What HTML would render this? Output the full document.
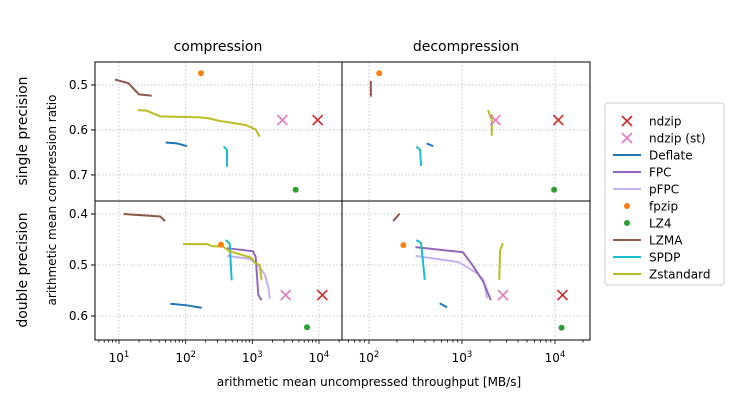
<!DOCTYPE html>
<html><head><meta charset="utf-8"><style>
body{margin:0;background:#fff}
svg text{font-family:"DejaVu Sans","Liberation Sans",sans-serif;fill:#000}
</style></head><body>
<svg id="c" width="745" height="400" xmlns="http://www.w3.org/2000/svg"></svg>
<script>
// data: x as log10(MB/s), y as compression ratio
const colors={ndzip:"#d62728",ndzipst:"#e377c2",Deflate:"#1f77b4",FPC:"#9467bd",pFPC:"#c5b0f5",fpzip:"#ff7f0e",LZ4:"#2ca02c",LZMA:"#8c564b",SPDP:"#17becf",Zstandard:"#bcbd22"};
const legendNames=["ndzip","ndzip (st)","Deflate","FPC","pFPC","fpzip","LZ4","LZMA","SPDP","Zstandard"];
const legendKeys=["ndzip","ndzipst","Deflate","FPC","pFPC","fpzip","LZ4","LZMA","SPDP","Zstandard"];
const yTicksTop=[0.5,0.6,0.7];
const yTicksBot=[0.4,0.5,0.6];
const xTicksExp=[1,2,3,4];
// panel 0: single/compression, 1: single/decompression, 2: double/compression, 3: double/decompression
const p0LZMA=[[0.94,0.488],[1.14,0.496],[1.30,0.521],[1.49,0.524]];
const p0Zstd=[[1.28,0.556],[1.41,0.557],[1.62,0.570],[2.21,0.572],[2.34,0.574],[2.51,0.580],[2.90,0.589],[3.05,0.599],[3.11,0.615]];
const p0Deflate=[[1.70,0.628],[1.87,0.630],[2.02,0.636]];
const p0SPDP=[[2.57,0.637],[2.62,0.644],[2.62,0.682]];
const p0Pts={fpzip:[2.23,0.474],ndzipst:[3.45,0.578],ndzip:[3.98,0.578],LZ4:[3.65,0.733]};
const p1LZMA=[[2.02,0.491],[2.02,0.526]];
const p1Zstd=[[3.28,0.556],[3.31,0.574],[3.32,0.567],[3.32,0.613]];
const p1Deflate=[[2.62,0.630],[2.69,0.636]];
const p1SPDP=[[2.51,0.637],[2.55,0.644],[2.56,0.680]];
const p1Pts={fpzip:[2.11,0.474],ndzipst:[3.36,0.578],ndzip:[4.035,0.578],LZ4:[3.99,0.733]};
const p2LZMA=[[1.07,0.400],[1.62,0.405],[1.69,0.414]];
const p2Zstd=[[1.96,0.459],[2.32,0.459],[2.39,0.463],[2.56,0.464],[2.66,0.473],[2.99,0.486],[3.04,0.496],[3.11,0.500],[3.14,0.530]];
const p2SPDP=[[2.60,0.451],[2.66,0.458],[2.69,0.530]];
const p2FPC=[[2.62,0.467],[3.01,0.473],[3.05,0.484],[3.09,0.559],[3.14,0.569]];
const p2pFPC=[[2.62,0.482],[2.96,0.488],[3.09,0.500],[3.19,0.520],[3.24,0.543],[3.26,0.567]];
const p2Deflate=[[1.77,0.576],[2.02,0.579],[2.24,0.584]];
const p2Pts={fpzip:[2.53,0.460],ndzipst:[3.50,0.559],ndzip:[4.05,0.559],LZ4:[3.82,0.622]};
const p3LZMA=[[2.26,0.414],[2.33,0.399]];
const p3SPDP=[[2.51,0.451],[2.56,0.457],[2.60,0.529]];
const p3FPC=[[2.50,0.465],[3.01,0.475],[3.10,0.497],[3.23,0.533],[3.31,0.569]];
const p3pFPC=[[2.50,0.482],[2.96,0.494],[3.16,0.516],[3.23,0.529],[3.27,0.565]];
const p3Zstd=[[3.40,0.529],[3.41,0.471],[3.44,0.457]];
const p3Deflate=[[2.76,0.575],[2.84,0.583]];
const p3Pts={fpzip:[2.37,0.461],ndzipst:[3.44,0.559],ndzip:[4.08,0.559],LZ4:[4.07,0.623]};

const NS="http://www.w3.org/2000/svg";
const svg=document.getElementById("c");
function mk(t,a,p){const e=document.createElementNS(NS,t);for(const k in a)e.setAttribute(k,a[k]);(p||svg).appendChild(e);return e;}
const L=95,M=342,R=590,T=62,MID=201,B=340;
const xsL=[0.64,4.345],xsR=[1.71,4.376],ysT=[0.449,0.758],ysB=[0.3745,0.647];
const panels=[
 {x0:L,x1:M,y0:T,y1:MID,xs:xsL,ys:ysT,lines:{LZMA:p0LZMA,Zstandard:p0Zstd,Deflate:p0Deflate,SPDP:p0SPDP},pts:p0Pts,yt:yTicksTop,name:"single-compression"},
 {x0:M,x1:R,y0:T,y1:MID,xs:xsR,ys:ysT,lines:{LZMA:p1LZMA,Zstandard:p1Zstd,Deflate:p1Deflate,SPDP:p1SPDP},pts:p1Pts,yt:yTicksTop,name:"single-decompression"},
 {x0:L,x1:M,y0:MID,y1:B,xs:xsL,ys:ysB,lines:{LZMA:p2LZMA,Deflate:p2Deflate,pFPC:p2pFPC,FPC:p2FPC,SPDP:p2SPDP,Zstandard:p2Zstd},pts:p2Pts,yt:yTicksBot,name:"double-compression"},
 {x0:M,x1:R,y0:MID,y1:B,xs:xsR,ys:ysB,lines:{LZMA:p3LZMA,Deflate:p3Deflate,pFPC:p3pFPC,FPC:p3FPC,SPDP:p3SPDP,Zstandard:p3Zstd},pts:p3Pts,yt:yTicksBot,name:"double-decompression"}
];
panels.forEach((p,i)=>{
 const X=v=>p.x0+(v-p.xs[0])/(p.xs[1]-p.xs[0])*(p.x1-p.x0);
 const Y=v=>p.y0+(v-p.ys[0])/(p.ys[1]-p.ys[0])*(p.y1-p.y0);
 const g=mk("g",{});
 
 
 xTicksExp.forEach(e=>{const x=X(e);if(x>p.x0&&x<p.x1){mk("line",{x1:x,x2:x,y1:p.y0,y2:p.y1,stroke:"#bbb","stroke-width":0.8,"stroke-dasharray":"1.5,2"},g);}});
 p.yt.forEach(v=>{const y=Y(v);mk("line",{x1:p.x0,x2:p.x1,y1:y,y2:y,stroke:"#bbb","stroke-width":0.8,"stroke-dasharray":"1.5,2"},g);
  if(i%2==0){mk("line",{x1:p.x0-4,x2:p.x0,y1:y,y2:y,stroke:"#000"},g);const t=mk("text",{x:p.x0-7,y:y+4,"text-anchor":"end","font-size":12},g);t.textContent=v.toFixed(1);}});
 for(const k in p.lines){const pl=mk("polyline",{points:p.lines[k].map(d=>X(d[0])+","+Y(d[1])).join(" "),fill:"none",stroke:colors[k],"stroke-width":2,"stroke-linejoin":"round"},g);
  
  }
 for(const k in p.pts){const d=p.pts[k],x=X(d[0]),y=Y(d[1]);
  if(k.startsWith("ndzip")){const s=5;const gg=mk("g",{stroke:colors[k],"stroke-width":1.6},g);mk("line",{x1:x-s,y1:y-s,x2:x+s,y2:y+s},gg);mk("line",{x1:x-s,y1:y+s,x2:x+s,y2:y-s},gg);
   }
  else{const c=mk("circle",{cx:x,cy:y,r:3,fill:colors[k]},g);}}
 if(i>=2){
  for(let e=Math.floor(p.xs[0]);e<=Math.ceil(p.xs[1]);e++){for(let m=1;m<10;m++){const lv=e+Math.log10(m);const x=X(lv);if(x<p.x0||x>p.x1)continue;
   mk("line",{x1:x,x2:x,y1:p.y1,y2:p.y1+(m==1?4:2.5),stroke:"#000","stroke-width":0.8},g);
   if(m==1){const t=mk("text",{x:x,y:p.y1+22,"text-anchor":"middle","font-size":12},g);t.textContent="10";const s=mk("tspan",{dy:-5,"font-size":8.5},t);s.textContent=e;}}}
 }
 mk("rect",{x:p.x0,y:p.y0,width:p.x1-p.x0,height:p.y1-p.y0,fill:"none",stroke:"#000","stroke-width":1},g);
});
function txt(s,a,name){const t=mk("text",a);t.textContent=s;return t;}
txt("compression",{x:218,y:51,"text-anchor":"middle","font-size":14},"col-title-compression");
txt("decompression",{x:466,y:51,"text-anchor":"middle","font-size":14},"col-title-decompression");
txt("single precision",{x:0,y:0,"text-anchor":"middle","font-size":14,transform:"translate(27,131) rotate(-90)"},"row-title-single");
txt("double precision",{x:0,y:0,"text-anchor":"middle","font-size":14,transform:"translate(27,270) rotate(-90)"},"row-title-double");
txt("arithmetic mean compression ratio",{x:0,y:0,"text-anchor":"middle","font-size":12,transform:"translate(56,200) rotate(-90)"},"y-axis-title");
txt("arithmetic mean uncompressed throughput [MB/s]",{x:369,y:386,"text-anchor":"middle","font-size":12},"x-axis-title");
const lg=mk("g",{});


mk("rect",{x:605,y:103,width:119,height:182,rx:3,fill:"#fff",stroke:"#ccc"},lg);
legendNames.forEach((n,i)=>{const y=121+i*17,k=legendKeys[i];const e=mk("g",{},lg);
 
 
 if(i<2){mk("line",{x1:622,y1:y-5,x2:632,y2:y+5,stroke:colors[k],"stroke-width":1.6},e);mk("line",{x1:622,y1:y+5,x2:632,y2:y-5,stroke:colors[k],"stroke-width":1.6},e);}
 else if(k=="fpzip"||k=="LZ4"){mk("circle",{cx:627,cy:y,r:3,fill:colors[k]},e);}
 else mk("line",{x1:613,x2:641,y1:y,y2:y,stroke:colors[k],"stroke-width":2},e);
 const t=mk("text",{x:649,y:y+4.5,"font-size":12},e);t.textContent=n;});
</script>
</body></html>
